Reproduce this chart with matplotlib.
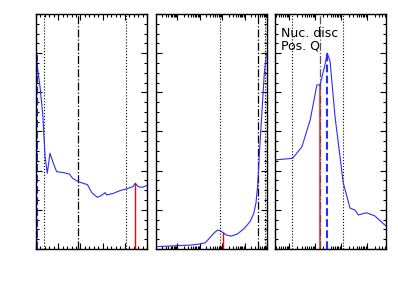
import matplotlib
matplotlib.use("Agg")
import matplotlib.pyplot as plt
from matplotlib.ticker import MultipleLocator, LogLocator, NullFormatter
import numpy as np

# 面板一：线性横轴
p1_x = [0.0, 0.06, 0.18, 0.30, 0.41, 0.51, 0.63, 0.78, 0.93, 1.23, 1.50, 1.65, 1.91,
        2.21, 2.31, 2.51, 2.76, 2.96, 3.11, 3.18, 3.48, 3.78, 4.05, 4.36, 4.47, 4.61,
        4.80, 5.0]
p1_y = [0.991, 0.931, 0.829, 0.695, 0.471, 0.387, 0.489, 0.438, 0.395, 0.390, 0.383,
        0.361, 0.344, 0.332, 0.330, 0.288, 0.264, 0.274, 0.288, 0.276, 0.284, 0.298,
        0.306, 0.318, 0.336, 0.318, 0.315, 0.325]
p1_dotted = [0.36, 4.05]
p1_dashdot = [1.89]
p1_red = (4.47, 0.336)
p1_blue = (0.03, 0.991)

# 面板二：对数横轴（以 log10 表示）
p2_logx = [-0.95, -0.01, 0.58, 1.03, 1.25, 1.47, 1.65, 1.80, 1.92, 2.02, 2.19, 2.40,
           2.67, 2.99, 3.26, 3.41, 3.51, 3.58, 3.67, 3.78, 3.88, 3.97, 4.0]
p2_y = [0.012, 0.017, 0.020, 0.026, 0.032, 0.060, 0.083, 0.097, 0.093, 0.085, 0.071,
        0.066, 0.076, 0.105, 0.143, 0.182, 0.236, 0.318, 0.506, 0.710, 0.897, 0.991,
        1.0]
p2_dotted = [1.92, 3.93]
p2_dashdot = [3.58]
p2_red = (2.02, 0.085)

# 面板三：对数横轴
p3_logx = [-0.55, 0.13, 0.49, 0.81, 1.07, 1.19, 1.38, 1.47, 1.58, 1.77, 2.09, 2.35,
           2.54, 2.67, 2.99, 3.31, 3.74]
p3_y = [0.455, 0.463, 0.522, 0.659, 0.838, 0.838, 0.940, 1.0, 0.957, 0.676, 0.336,
        0.209, 0.199, 0.174, 0.185, 0.169, 0.117]
p3_dotted = [0.12, 2.08]
p3_dashdot = [1.19]
p3_red = (1.19, 0.838)
p3_blue = (1.46, 1.0)

BLUE = "#2b2bff"


def style_axis(ax):
    ax.set_ylim(0, 1.2)
    ax.yaxis.set_major_locator(MultipleLocator(0.2))
    ax.yaxis.set_minor_locator(MultipleLocator(0.05))
    ax.tick_params(which="both", direction="in", top=True, right=True,
                   labelbottom=False, labelleft=False, width=0.8)
    ax.tick_params(which="major", length=4)
    ax.tick_params(which="minor", length=2)
    for s in ax.spines.values():
        s.set_linewidth(1.0)


def style_log(ax, lo, hi):
    ax.set_xscale("log")
    ax.set_xlim(10 ** lo, 10 ** hi)
    ax.xaxis.set_major_locator(LogLocator(base=10, numticks=10))
    ax.xaxis.set_minor_locator(LogLocator(base=10, subs=np.arange(2, 10), numticks=20))
    ax.xaxis.set_major_formatter(NullFormatter())
    ax.xaxis.set_minor_formatter(NullFormatter())


fig = plt.figure(figsize=(3.98, 2.84), dpi=100)
h = 235 / 284
b = 35 / 284
w = 111 / 398
ax1 = fig.add_axes([36 / 398, b, w, h])
ax2 = fig.add_axes([156 / 398, b, w, h])
ax3 = fig.add_axes([275 / 398, b, w, h])

# 面板一
style_axis(ax1)
ax1.set_xlim(0, 5)
ax1.xaxis.set_major_locator(MultipleLocator(1))
ax1.xaxis.set_minor_locator(MultipleLocator(0.2))
for x in p1_dotted:
    ax1.axvline(x, color="k", ls=":", lw=0.8)
for x in p1_dashdot:
    ax1.axvline(x, color="k", ls="-.", lw=0.9)
ax1.vlines(p1_red[0], 0, p1_red[1], color="red", lw=1.0)
ax1.vlines(p1_blue[0], 0, p1_blue[1], color=BLUE, lw=1.5, ls="--")
ax1.plot(p1_x, p1_y, color=BLUE, lw=0.8)

# 面板二
style_axis(ax2)
style_log(ax2, -0.95, 4.0)
for x in p2_dotted:
    ax2.axvline(10 ** x, color="k", ls=":", lw=0.8)
for x in p2_dashdot:
    ax2.axvline(10 ** x, color="k", ls="-.", lw=0.9)
ax2.vlines(10 ** p2_red[0], 0, p2_red[1], color="red", lw=1.0)
ax2.plot(10 ** np.array(p2_logx), p2_y, color=BLUE, lw=0.8)

# 面板三
style_axis(ax3)
style_log(ax3, -0.55, 3.74)
for x in p3_dotted:
    ax3.axvline(10 ** x, color="k", ls=":", lw=0.8)
ax3.vlines(10 ** p3_red[0], 0, p3_red[1], color="#ff5050", lw=1.5)
for x in p3_dashdot:
    ax3.axvline(10 ** x, color="#555555", ls="-.", lw=0.9)
ax3.vlines(10 ** p3_blue[0], 0, p3_blue[1], color=BLUE, lw=1.5, ls="--")
ax3.plot(10 ** np.array(p3_logx), p3_y, color=BLUE, lw=0.8)
ax3.text(0.05, 0.918, "Nuc. disc", transform=ax3.transAxes, fontsize=9,
         va="center", ha="left")
ax3.text(0.05, 0.865, "Pos. Q", transform=ax3.transAxes, fontsize=9,
         va="center", ha="left")

fig.savefig("out.png", dpi=100)
